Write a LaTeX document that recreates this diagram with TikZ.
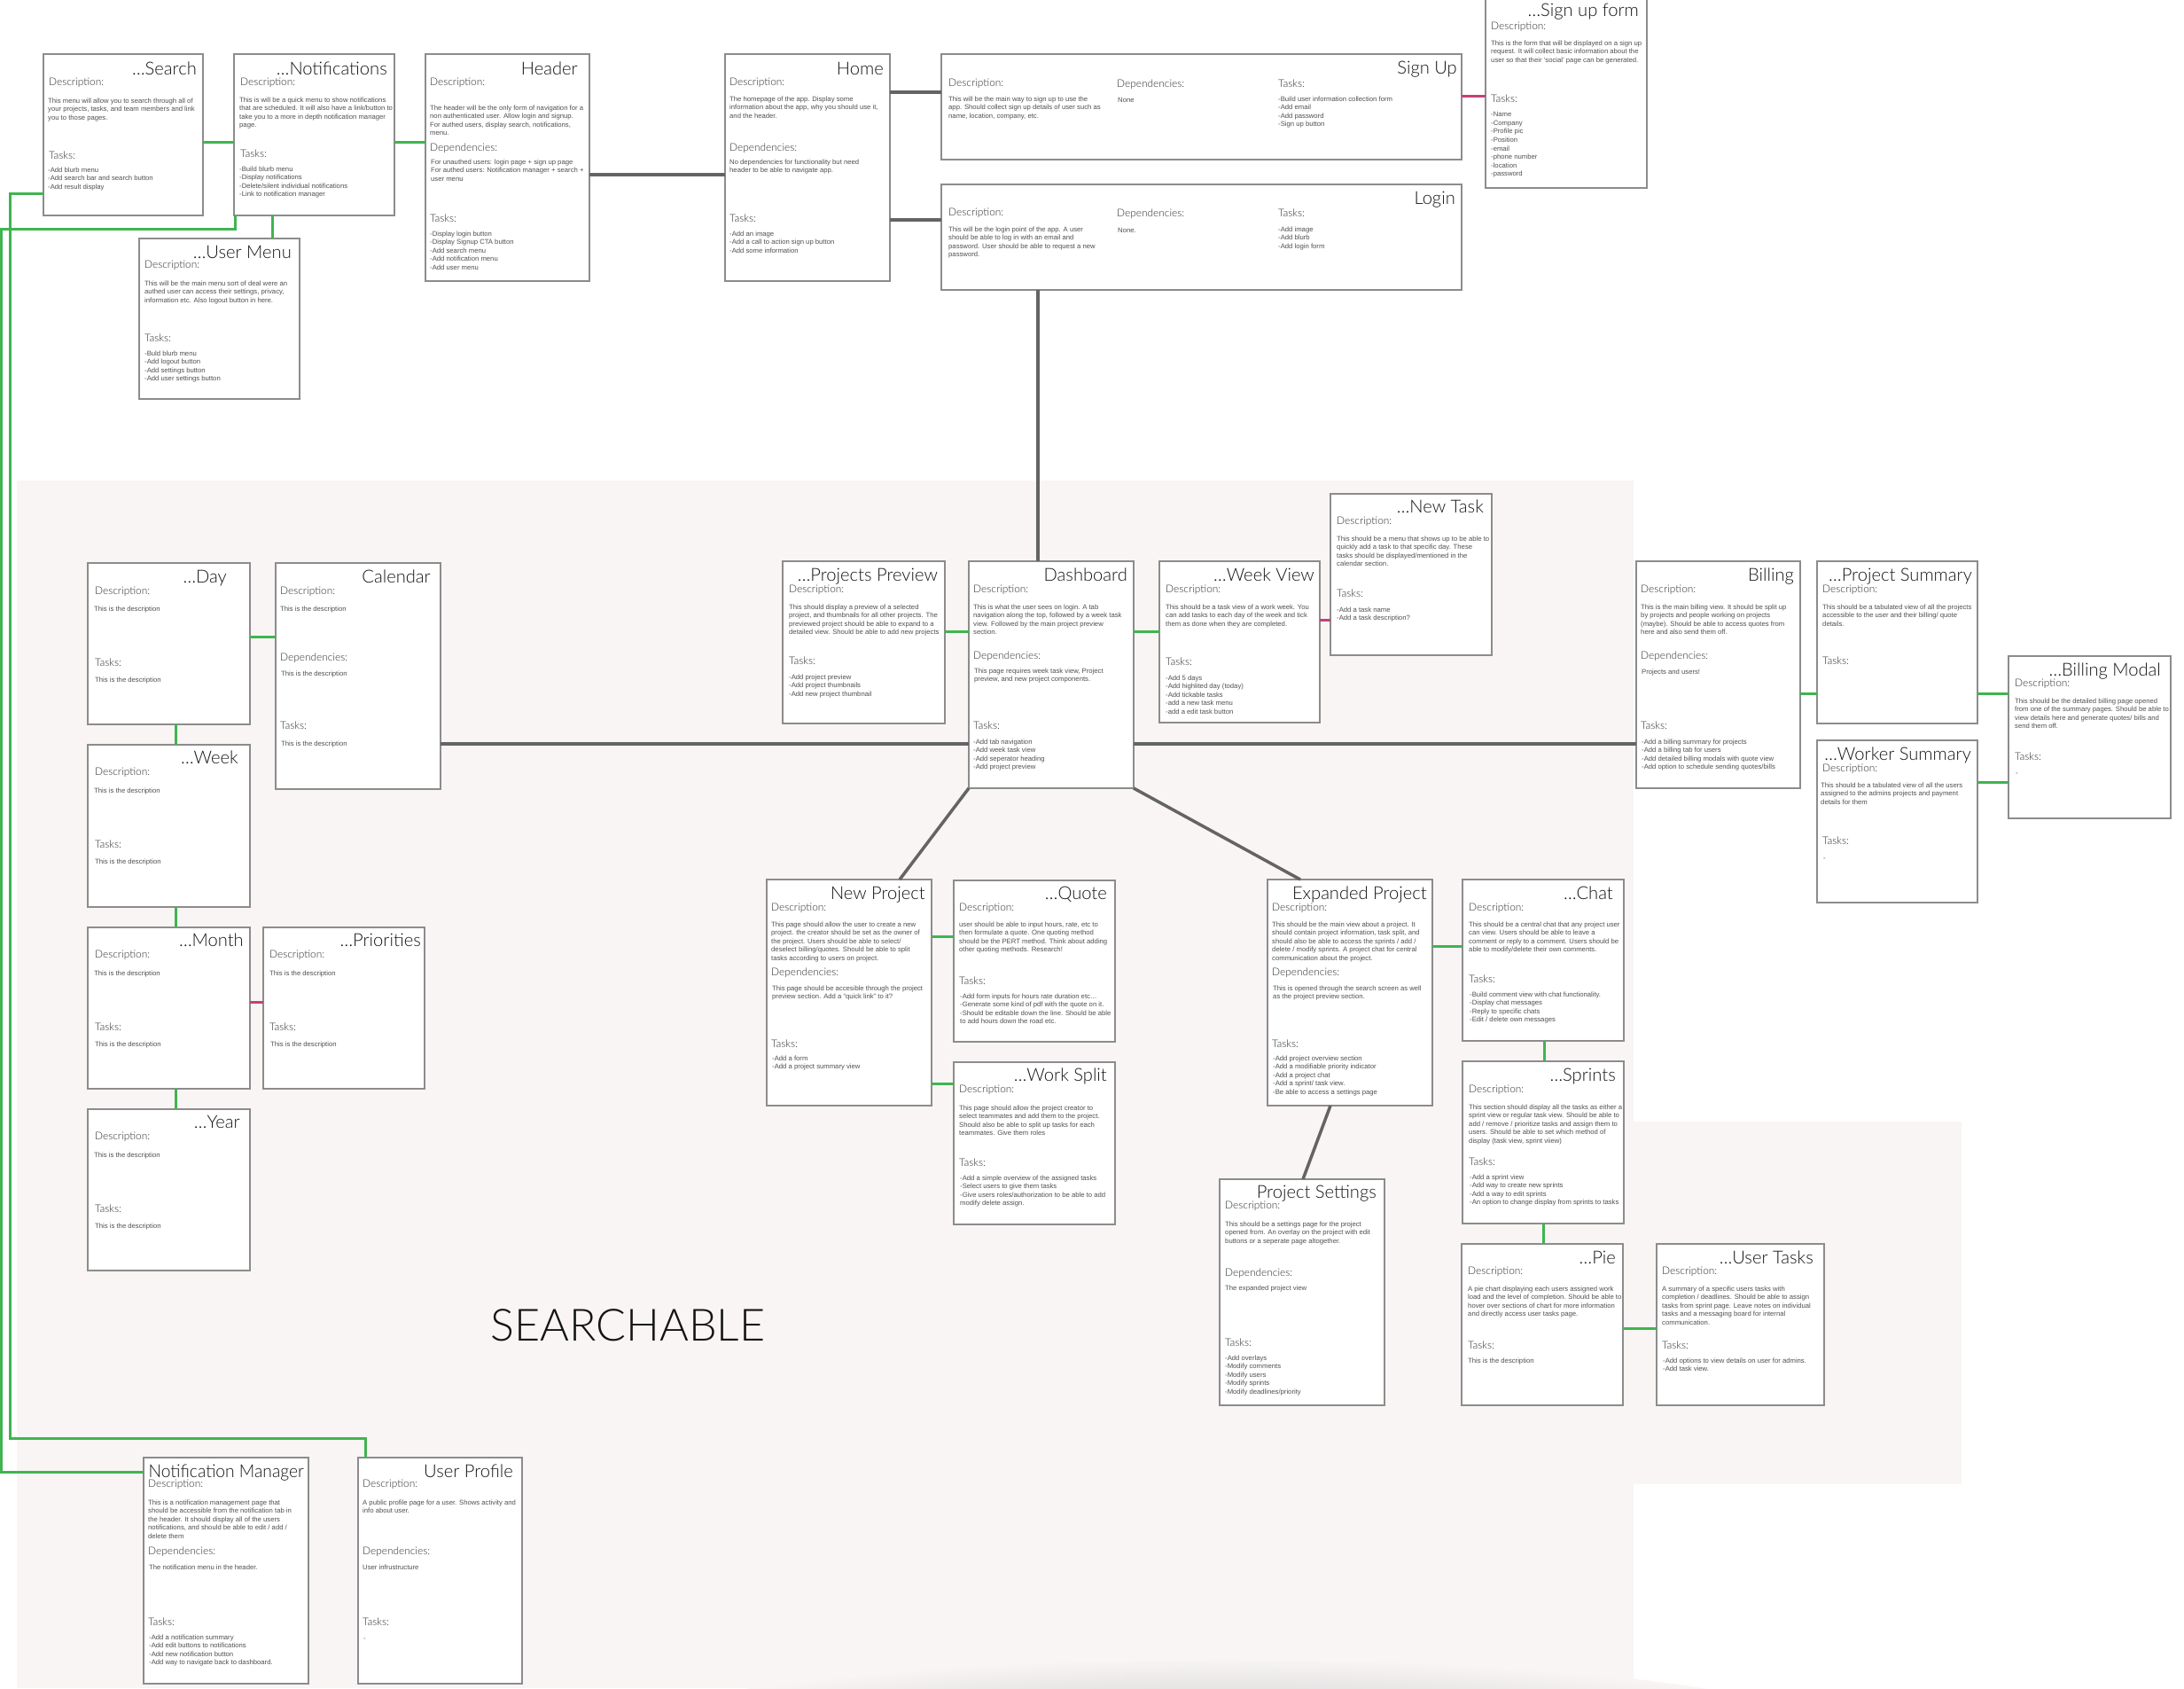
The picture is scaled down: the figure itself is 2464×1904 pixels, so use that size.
\documentclass[tikz,border=0pt]{standalone}
\usepackage{fontspec}
\setmainfont{Liberation Sans}
\IfFontExistsTF{Lato Light}{\newfontfamily\lightfam{Lato Light}\def\lightscale{1.06}}{\newfontfamily\lightfam{Liberation Sans}\def\lightscale{1}}
\usetikzlibrary{calc}
\definecolor{boxc}{RGB}{140,140,140}
\definecolor{ttlc}{RGB}{20,20,20}
\definecolor{lblc}{RGB}{45,45,45}
\definecolor{bodyc}{RGB}{80,80,80}
\definecolor{cgreen}{RGB}{64,180,80}
\definecolor{cpink}{RGB}{196,64,120}
\definecolor{cgray}{RGB}{100,100,100}
\definecolor{bgc}{RGB}{248,245,244}
\newcommand\titlef{\lightfam\fontsize{\lightscale\dimexpr 19pt\relax}{22}\selectfont}
\newcommand\lblf{\lightfam\fontsize{\lightscale\dimexpr 11.2pt\relax}{13}\selectfont}
\newcommand\bodyf{\fontsize{7.7}{9.6}\selectfont}
\begin{document}
\begin{tikzpicture}[x=1pt,y=-1pt,
  card/.style={draw=boxc, line width=1.3pt, fill=white, inner sep=0pt, outer sep=0pt, anchor=north west},
  ttl/.style={anchor=base east, inner sep=0pt, font=\titlef, text=ttlc},
  lbl/.style={anchor=base west, inner sep=0pt, font=\lblf, text=lblc},
  txt/.style={anchor=north west, inner sep=0pt, align=left, font=\bodyf, text=bodyc, yshift=6.72pt, execute at begin node=\strut},
  gline/.style={line width=3pt, draw=cgreen},
  pline/.style={line width=3pt, draw=cpink},
  kline/.style={line width=3.5pt, draw=cgray}]
\useasboundingbox (0,0) rectangle (2464,1904);
\fill[white] (0,0) rectangle (2464,1904);
% background region
\fill[bgc] (19,542) rectangle (1843,1904);
\fill[bgc] (1843,1265) rectangle (2213,1674);
\begin{scope}
\clip (0,0) rectangle (2464,1904);
\shade[inner color=black!22, outer color=bgc] (1383,1965) ellipse [x radius=700pt, y radius=95pt];
\end{scope}
\node[anchor=base west, inner sep=0pt, font=\lightfam\fontsize{60}{62}\selectfont, text=ttlc] (searchable) at (553,1512) {\resizebox{310pt}{!}{SEARCHABLE}};

% ---------- cards ----------
\node[card, minimum width=180pt, minimum height=182pt] (search) at (49,61) {};
\node[card, minimum width=181pt, minimum height=182pt] (notif) at (264,61) {};
\node[card, minimum width=185pt, minimum height=256pt] (header) at (480,61) {};
\node[card, minimum width=186pt, minimum height=256pt] (home) at (818,61) {};
\node[card, minimum width=181pt, minimum height=181pt] (umenu) at (157,269) {};
\node[card, minimum width=587pt, minimum height=119pt] (signup) at (1062,61) {};
\node[card, minimum width=587pt, minimum height=119pt] (login) at (1062,208) {};
\node[card, minimum width=182pt, minimum height=232pt] (suform) at (1676,-20) {};
\node[card, minimum width=183pt, minimum height=182pt] (day) at (99,635) {};
\node[card, minimum width=186pt, minimum height=255pt] (cal) at (311,635) {};
\node[card, minimum width=183pt, minimum height=183pt] (week) at (99,840) {};
\node[card, minimum width=183pt, minimum height=182pt] (month) at (99,1046) {};
\node[card, minimum width=182pt, minimum height=182pt] (prio) at (297,1046) {};
\node[card, minimum width=183pt, minimum height=182pt] (year) at (99,1251) {};
\node[card, minimum width=183pt, minimum height=183pt] (pprev) at (883,633) {};
\node[card, minimum width=186pt, minimum height=256pt] (dash) at (1093,633) {};
\node[card, minimum width=181pt, minimum height=182pt] (wview) at (1308,633) {};
\node[card, minimum width=182pt, minimum height=182pt] (ntask) at (1501,557) {};
\node[card, minimum width=185pt, minimum height=256pt] (billing) at (1846,633) {};
\node[card, minimum width=181pt, minimum height=183pt] (psum) at (2050,633) {};
\node[card, minimum width=181pt, minimum height=183pt] (wsum) at (2050,835) {};
\node[card, minimum width=183pt, minimum height=183pt] (bmodal) at (2266,740) {};
\node[card, minimum width=186pt, minimum height=255pt] (nproj) at (865,992) {};
\node[card, minimum width=182pt, minimum height=182pt] (quote) at (1076,993) {};
\node[card, minimum width=182pt, minimum height=183pt] (wsplit) at (1076,1198) {};
\node[card, minimum width=186pt, minimum height=255pt] (eproj) at (1430,992) {};
\node[card, minimum width=182pt, minimum height=182pt] (chat) at (1650,992) {};
\node[card, minimum width=182pt, minimum height=183pt] (sprints) at (1650,1197) {};
\node[card, minimum width=186pt, minimum height=255pt] (psett) at (1376,1330) {};
\node[card, minimum width=182pt, minimum height=182pt] (pie) at (1649,1403) {};
\node[card, minimum width=189pt, minimum height=182pt] (utasks) at (1869,1403) {};
\node[card, minimum width=186pt, minimum height=255pt] (nman) at (162,1644) {};
\node[card, minimum width=185pt, minimum height=255pt] (uprof) at (404,1644) {};

% ---------- connectors ----------
\draw[gline] (search.east |- 0,160) -- (notif.west |- 0,160);
\draw[gline] (notif.east |- 0,160) -- (header.west |- 0,160);
\draw[kline] (header.east |- 0,197) -- (home.west |- 0,197);
\draw[kline] (home.east |- 0,104) -- (signup.west |- 0,104);
\draw[kline] (home.east |- 0,248) -- (login.west |- 0,248);
\draw[pline] (signup.east |- 0,108) -- (suform.west |- 0,108);
\draw[kline] (login.south -| 1171,0) -- (dash.north -| 1171,0);
\draw[gline] (notif.south -| 307,0) -- (umenu.north -| 307,0);
\coordinate (lw1) at (11,218);
\coordinate (lw2) at (11,1622);
\coordinate (lw3) at (412,1622);
\draw[gline] (search.west |- lw1) -- (lw1) -- (lw2) -- (lw3) -- (uprof.north -| lw3);
\coordinate (ln1) at (265,258);
\coordinate (ln2) at (1,258);
\coordinate (ln3) at (1,1660);
\draw[gline] (notif.south -| ln1) -- (ln1) -- (ln2) -- (ln3) -- (nman.west |- ln3);
\draw[gline] (day.east |- 0,718) -- (cal.west |- 0,718);
\draw[gline] (day.south -| 198,0) -- (week.north -| 198,0);
\draw[gline] (week.south -| 198,0) -- (month.north -| 198,0);
\draw[gline] (month.south -| 198,0) -- (year.north -| 198,0);
\draw[pline] (month.east |- 0,1130) -- (prio.west |- 0,1130);
\draw[kline] (cal.east |- 0,839) -- (dash.west |- 0,839);
\draw[gline] (pprev.east |- 0,712) -- (dash.west |- 0,712);
\draw[gline] (dash.east |- 0,712) -- (wview.west |- 0,712);
\draw[pline] (wview.east |- 0,699) -- (ntask.west |- 0,699);
\draw[kline] (dash.east |- 0,839) -- (billing.west |- 0,839);
\draw[gline] (billing.east |- 0,782) -- (psum.west |- 0,782);
\draw[gline] (psum.east |- 0,782) -- (bmodal.west |- 0,782);
\draw[gline] (wsum.east |- 0,882) -- (bmodal.west |- 0,882);
\draw[kline] (dash.south west) -- (nproj.north -| 1015,0);
\draw[kline] (dash.south east) -- (eproj.north -| 1467,0);
\draw[gline] (nproj.east |- 0,1056) -- (quote.west |- 0,1056);
\draw[gline] (nproj.east |- 0,1222) -- (wsplit.west |- 0,1222);
\draw[gline] (eproj.east |- 0,1067) -- (chat.west |- 0,1067);
\draw[gline] (chat.south -| 1742,0) -- (sprints.north -| 1742,0);
\draw[gline] (sprints.south -| 1741,0) -- (pie.north -| 1741,0);
\draw[gline] (pie.east |- 0,1498) -- (utasks.west |- 0,1498);
\draw[kline] (eproj.south -| 1501,0) -- (psett.north -| 1470,0);

% ---------- texts ----------
% Search
\node[ttl] (search-h) at (222,84) {…Search};
\node[lbl] (search-dl) at (55,96) {Description:};
\node[txt] (search-d) at (54,117) {This menu will allow you to search through all of\\your projects, tasks, and team members and link\\you to those pages.};
\node[lbl] (search-tl) at (55,179) {Tasks:};
\node[txt] (search-t) at (54,195) {-Add blurb menu\\-Add search bar and search button\\-Add result display};
% Notifications
\node[ttl] (notif-h) at (437,84) {…Notifications};
\node[lbl] (notif-dl) at (271,96) {Description:};
\node[txt] (notif-d) at (270,116) {This is will be a quick menu to show notifications\\that are scheduled. It will also have a link/button to\\take you to a more in depth notification manager\\page.};
\node[lbl] (notif-tl) at (271,177) {Tasks:};
\node[txt] (notif-t) at (270,194) {-Build blurb menu\\-Display notifications\\-Delete/silent individual notifications\\-Link to notification manager};
% Header
\node[ttl] (header-h) at (652,84) {Header};
\node[lbl] (header-dl) at (485,96) {Description:};
\node[txt] (header-d) at (485,125) {The header will be the only form of navigation for a\\non authenticated user. Allow login and signup.\\For authed users, display search, notifications,\\menu.};
\node[lbl] (header-pl) at (485,170) {Dependencies:};
\node[txt] (header-p) at (486,186) {For unauthed users: login page + sign up page\\For authed users: Notification manager + search +\\user menu};
\node[lbl] (header-tl) at (485,250) {Tasks:};
\node[txt] (header-t) at (485,267) {-Display login button\\-Display Signup CTA button\\-Add search menu\\-Add notification menu\\-Add user menu};
% Home
\node[ttl] (home-h) at (997,84) {Home};
\node[lbl] (home-dl) at (823,96) {Description:};
\node[txt] (home-d) at (823,115) {The homepage of the app. Display some\\information about the app, why you should use it,\\and the header.};
\node[lbl] (home-pl) at (823,170) {Dependencies:};
\node[txt] (home-p) at (823,186) {No dependencies for functionality but need\\header to be able to navigate app.};
\node[lbl] (home-tl) at (823,250) {Tasks:};
\node[txt] (home-t) at (823,267) {-Add an image\\-Add a call to action sign up button\\-Add some information};
% User Menu
\node[ttl] (umenu-h) at (329,291) {…User Menu};
\node[lbl] (umenu-dl) at (163,302) {Description:};
\node[txt] (umenu-d) at (163,323) {This will be the main menu sort of deal were an\\authed user can access their settings, privacy,\\information etc. Also logout button in here.};
\node[lbl] (umenu-tl) at (163,385) {Tasks:};
\node[txt] (umenu-t) at (163,402) {-Buld blurb menu\\-Add logout button\\-Add settings button\\-Add user settings button};
% Sign Up
\node[ttl] (signup-h) at (1644,83) {Sign Up};
\node[lbl] (signup-dl) at (1070,97) {Description:};
\node[txt] (signup-d) at (1070,115) {This will be the main way to sign up to use the\\app. Should collect sign up details of user such as\\name, location, company, etc.};
\node[lbl] (signup-pl) at (1260,98) {Dependencies:};
\node[txt] (signup-p) at (1261,115) {None};
\node[lbl] (signup-tl) at (1442,98) {Tasks:};
\node[txt] (signup-t) at (1442,115) {-Build user information collection form\\-Add email\\-Add password\\-Sign up button};
% Login
\node[ttl] (login-h) at (1642,230) {Login};
\node[lbl] (login-dl) at (1070,243) {Description:};
\node[txt] (login-d) at (1070,262) {This will be the login point of the app. A user\\should be able to log in with an email and\\password. User should be able to request a new\\password.};
\node[lbl] (login-pl) at (1260,244) {Dependencies:};
\node[txt] (login-p) at (1261,262) {None.};
\node[lbl] (login-tl) at (1442,244) {Tasks:};
\node[txt] (login-t) at (1442,262) {-Add image\\-Add blurb\\-Add login form};
% Sign up form
\node[ttl] (suform-h) at (1849,18) {…Sign up form};
\node[lbl] (suform-dl) at (1682,33) {Description:};
\node[txt] (suform-d) at (1682,52) {This is the form that will be displayed on a sign up\\request. It will collect basic information about the\\user so that their `social' page can be generated.};
\node[lbl] (suform-tl) at (1682,115) {Tasks:};
\node[txt] (suform-t) at (1682,133) {-Name\\-Company\\-Profile pic\\-Position\\-email\\-phone number\\-location\\-password};
% Day
\node[ttl] (day-h) at (256,657) {…Day};
\node[lbl] (day-dl) at (107,670) {Description:};
\node[txt] (day-d) at (106,689) {This is the description};
\node[lbl] (day-tl) at (107,751) {Tasks:};
\node[txt] (day-t) at (107,769) {This is the description};
% Week
\node[ttl] (week-h) at (269,861) {…Week};
\node[lbl] (week-dl) at (107,874) {Description:};
\node[txt] (week-d) at (106,894) {This is the description};
\node[lbl] (week-tl) at (107,956) {Tasks:};
\node[txt] (week-t) at (107,974) {This is the description};
% Month
\node[ttl] (month-h) at (275,1067) {…Month};
\node[lbl] (month-dl) at (107,1080) {Description:};
\node[txt] (month-d) at (106,1100) {This is the description};
\node[lbl] (month-tl) at (107,1162) {Tasks:};
\node[txt] (month-t) at (107,1180) {This is the description};
% Priorities
\node[ttl] (prio-h) at (475,1067) {…Priorities};
\node[lbl] (prio-dl) at (304,1080) {Description:};
\node[txt] (prio-d) at (304,1100) {This is the description};
\node[lbl] (prio-tl) at (304,1162) {Tasks:};
\node[txt] (prio-t) at (305,1180) {This is the description};
% Year
\node[ttl] (year-h) at (271,1272) {…Year};
\node[lbl] (year-dl) at (107,1285) {Description:};
\node[txt] (year-d) at (106,1305) {This is the description};
\node[lbl] (year-tl) at (107,1367) {Tasks:};
\node[txt] (year-t) at (107,1385) {This is the description};
% Calendar
\node[ttl] (cal-h) at (486,657) {Calendar};
\node[lbl] (cal-dl) at (316,670) {Description:};
\node[txt] (cal-d) at (316,689) {This is the description};
\node[lbl] (cal-pl) at (316,745) {Dependencies:};
\node[txt] (cal-p) at (317,762) {This is the description};
\node[lbl] (cal-tl) at (316,822) {Tasks:};
\node[txt] (cal-t) at (317,841) {This is the description};
% Projects Preview
\node[ttl] (pprev-h) at (1058,655) {…Projects Preview};
\node[lbl] (pprev-dl) at (890,668) {Description:};
\node[txt] (pprev-d) at (890,688) {This should display a preview of a selected\\project, and thumbnails for all other projects. The\\previewed project should be able to expand to a\\detailed view. Should be able to add new projects};
\node[lbl] (pprev-tl) at (890,749) {Tasks:};
\node[txt] (pprev-t) at (890,767) {-Add project preview\\-Add project thumbnails\\-Add new project thumbnail};
% Dashboard
\node[ttl] (dash-h) at (1272,655) {Dashboard};
\node[lbl] (dash-dl) at (1098,668) {Description:};
\node[txt] (dash-d) at (1098,688) {This is what the user sees on login. A tab\\navigation along the top, followed by a week task\\view. Followed by the main project preview\\section.};
\node[lbl] (dash-pl) at (1098,743) {Dependencies:};
\node[txt] (dash-p) at (1099,760) {This page requires week task view, Project\\preview, and new project components.};
\node[lbl] (dash-tl) at (1098,822) {Tasks:};
\node[txt] (dash-t) at (1098,840) {-Add tab navigation\\-Add week task view\\-Add seperator heading\\-Add project preview};
% Week View
\node[ttl] (wview-h) at (1483,655) {…Week View};
\node[lbl] (wview-dl) at (1315,668) {Description:};
\node[txt] (wview-d) at (1315,688) {This should be a task view of a work week. You\\can add tasks to each day of the week and tick\\them as done when they are completed.};
\node[lbl] (wview-tl) at (1315,750) {Tasks:};
\node[txt] (wview-t) at (1315,768) {-Add 5 days\\-Add highlited day (today)\\-Add tickable tasks\\-add a new task menu\\-add a edit task button};
% New Task
\node[ttl] (ntask-h) at (1674,578) {…New Task};
\node[lbl] (ntask-dl) at (1508,591) {Description:};
\node[txt] (ntask-d) at (1508,611) {This should be a menu that shows up to be able to\\quickly add a task to that specific day. These\\tasks should be displayed/mentioned in the\\calendar section.};
\node[lbl] (ntask-tl) at (1508,673) {Tasks:};
\node[txt] (ntask-t) at (1508,691) {-Add a task name\\-Add a task description?};
% Billing
\node[ttl] (billing-h) at (2024,655) {Billing};
\node[lbl] (billing-dl) at (1851,668) {Description:};
\node[txt] (billing-d) at (1851,688) {This is the main billing view. It should be split up\\by projects and people working on projects\\(maybe). Should be able to access quotes from\\here and also send them off.};
\node[lbl] (billing-pl) at (1851,743) {Dependencies:};
\node[txt] (billing-p) at (1852,760) {Projects and users!};
\node[lbl] (billing-tl) at (1851,822) {Tasks:};
\node[txt] (billing-t) at (1852,840) {-Add a billing summary for projects\\-Add a billing tab for users\\-Add detailed billing modals with quote view\\-Add option to schedule sending quotes/bills};
% Project Summary
\node[ttl] (psum-h) at (2225,655) {…Project Summary};
\node[lbl] (psum-dl) at (2056,668) {Description:};
\node[txt] (psum-d) at (2056,688) {This should be a tabulated view of all the projects\\accessible to the user and their billing/ quote\\details.};
\node[lbl] (psum-tl) at (2056,749) {Tasks:};
% Worker Summary
\node[ttl] (wsum-h) at (2224,857) {…Worker Summary};
\node[lbl] (wsum-dl) at (2056,870) {Description:};
\node[txt] (wsum-d) at (2054,889) {This should be a tabulated view of all the users\\assigned to the admins projects and payment\\details for them};
\node[lbl] (wsum-tl) at (2056,952) {Tasks:};
\node[txt] (wsum-t) at (2057,970) {-};
% Billing Modal
\node[ttl] (bmodal-h) at (2438,762) {…Billing Modal};
\node[lbl] (bmodal-dl) at (2273,774) {Description:};
\node[txt] (bmodal-d) at (2273,794) {This should be the detailed billing page opened\\from one of the summary pages. Should be able to\\view details here and generate quotes/ bills and\\send them off.};
\node[lbl] (bmodal-tl) at (2273,857) {Tasks:};
\node[txt] (bmodal-t) at (2274,874) {-};
% New Project
\node[ttl] (nproj-h) at (1044,1014) {New Project};
\node[lbl] (nproj-dl) at (870,1027) {Description:};
\node[txt] (nproj-d) at (870,1046) {This page should allow the user to create a new\\project. the creator should be set as the owner of\\the project. Users should be able to select/\\deselect billing/quotes. Should be able to split\\tasks according to users on project.};
\node[lbl] (nproj-pl) at (870,1100) {Dependencies:};
\node[txt] (nproj-p) at (871,1118) {This page should be accesible through the project\\preview section. Add a ``quick link'' to it?};
\node[lbl] (nproj-tl) at (870,1181) {Tasks:};
\node[txt] (nproj-t) at (871,1197) {-Add a form\\-Add a project summary view};
% Quote
\node[ttl] (quote-h) at (1249,1014) {…Quote};
\node[lbl] (quote-dl) at (1082,1027) {Description:};
\node[txt] (quote-d) at (1082,1046) {user should be able to input hours, rate, etc to\\then formulate a quote. One quoting method\\should be the PERT method. Think about adding\\other quoting methods. Research!};
\node[lbl] (quote-tl) at (1082,1110) {Tasks:};
\node[txt] (quote-t) at (1083,1127) {-Add form inputs for hours rate duration etc…\\-Generate some kind of pdf with the quote on it.\\-Should be editable down the line. Should be able\\to add hours down the road etc.};
% Work Split
\node[ttl] (wsplit-h) at (1249,1219) {…Work Split};
\node[lbl] (wsplit-dl) at (1082,1232) {Description:};
\node[txt] (wsplit-d) at (1082,1253) {This page should allow the project creator to\\select teammates and add them to the project.\\Should also be able to split up tasks for each\\teammates. Give them roles};
\node[lbl] (wsplit-tl) at (1082,1315) {Tasks:};
\node[txt] (wsplit-t) at (1083,1332) {-Add a simple overview of the assigned tasks\\-Select users to give them tasks\\-Give users roles/authorization to be able to add\\modify delete assign.};
% Expanded Project
\node[ttl] (eproj-h) at (1610,1014) {Expanded Project};
\node[lbl] (eproj-dl) at (1435,1027) {Description:};
\node[txt] (eproj-d) at (1435,1046) {This should be the main view about a project. It\\should contain project information, task split, and\\should also be able to access the sprints / add /\\delete / modify sprints. A project chat for central\\communication about the project.};
\node[lbl] (eproj-pl) at (1435,1100) {Dependencies:};
\node[txt] (eproj-p) at (1436,1118) {This is opened through the search screen as well\\as the project preview section.};
\node[lbl] (eproj-tl) at (1435,1181) {Tasks:};
\node[txt] (eproj-t) at (1436,1197) {-Add project overview section\\-Add a modifiable priority indicator\\-Add a project chat\\-Add a sprint/ task view.\\-Be able to access a settings page};
% Chat
\node[ttl] (chat-h) at (1820,1014) {…Chat};
\node[lbl] (chat-dl) at (1657,1027) {Description:};
\node[txt] (chat-d) at (1657,1046) {This should be a central chat that any project user\\can view. Users should be able to leave a\\comment or reply to a comment. Users should be\\able to modify/delete their own comments.};
\node[lbl] (chat-tl) at (1657,1108) {Tasks:};
\node[txt] (chat-t) at (1658,1125) {-Build comment view with chat functionality.\\-Display chat messages\\-Reply to specific chats\\-Edit / delete own messages};
% Sprints
\node[ttl] (sprints-h) at (1823,1219) {…Sprints};
\node[lbl] (sprints-dl) at (1657,1232) {Description:};
\node[txt] (sprints-d) at (1657,1252) {This section should display all the tasks as either a\\sprint view or regular task view. Should be able to\\add / remove / prioritize tasks and assign them to\\users. Should be able to set which method of\\display (task view, sprint viiew)};
\node[lbl] (sprints-tl) at (1657,1314) {Tasks:};
\node[txt] (sprints-t) at (1658,1331) {-Add a sprint view\\-Add way to create new sprints\\-Add a way to edit sprints\\-An option to change display from sprints to tasks};
% Project Settings
\node[ttl] (psett-h) at (1553,1351) {Project Settings};
\node[lbl] (psett-dl) at (1382,1363) {Description:};
\node[txt] (psett-d) at (1382,1384) {This should be a settings page for the project\\opened from. An overlay on the project with edit\\buttons or a seperate page altogether.};
\node[lbl] (psett-pl) at (1382,1439) {Dependencies:};
\node[txt] (psett-p) at (1382,1455) {The expanded project view};
\node[lbl] (psett-tl) at (1382,1518) {Tasks:};
\node[txt] (psett-t) at (1382,1535) {-Add overlays\\-Modify comments\\-Modify users\\-Modify sprints\\-Modify deadlines/priority};
% Pie
\node[ttl] (pie-h) at (1823,1425) {…Pie};
\node[lbl] (pie-dl) at (1656,1437) {Description:};
\node[txt] (pie-d) at (1656,1457) {A pie chart displaying each users assigned work\\load and the level of completion. Should be able to\\hover over sections of chart for more information\\and directly access user tasks page.};
\node[lbl] (pie-tl) at (1656,1521) {Tasks:};
\node[txt] (pie-t) at (1656,1537) {This is the description};
% User Tasks
\node[ttl] (utasks-h) at (2046,1425) {…User Tasks};
\node[lbl] (utasks-dl) at (1875,1437) {Description:};
\node[txt] (utasks-d) at (1875,1457) {A summary of a specific users tasks with\\completion / deadlines. Should be able to assign\\tasks from sprint page. Leave notes on individual\\tasks and a messaging board for internal\\communication.};
\node[lbl] (utasks-tl) at (1875,1521) {Tasks:};
\node[txt] (utasks-t) at (1876,1538) {-Add options to view details on user for admins.\\-Add task view.};
% Notification Manager
\node[ttl] (nman-h) at (343,1666) {\scalebox{0.955}[1]{Notification Manager}};
\node[lbl] (nman-dl) at (167,1677) {Description:};
\node[txt] (nman-d) at (167,1698) {This is a notification management page that\\should be accessible from the notification tab in\\the header. It should display all of the users\\notifications, and should be able to edit / add /\\delete them};
\node[lbl] (nman-pl) at (167,1753) {Dependencies:};
\node[txt] (nman-p) at (168,1770) {The notification menu in the header.};
\node[lbl] (nman-tl) at (167,1833) {Tasks:};
\node[txt] (nman-t) at (168,1850) {-Add a notification summary\\-Add edit buttons to notifications\\-Add new notification button\\-Add way to navigate back to dashboard.};
% User Profile
\node[ttl] (uprof-h) at (579,1666) {User Profile};
\node[lbl] (uprof-dl) at (409,1677) {Description:};
\node[txt] (uprof-d) at (409,1698) {A public profile page for a user. Shows activity and\\info about user.};
\node[lbl] (uprof-pl) at (409,1753) {Dependencies:};
\node[txt] (uprof-p) at (409,1770) {User infrustructure};
\node[lbl] (uprof-tl) at (409,1833) {Tasks:};
\node[txt] (uprof-t) at (410,1850) {-};
\end{tikzpicture}
\end{document}
